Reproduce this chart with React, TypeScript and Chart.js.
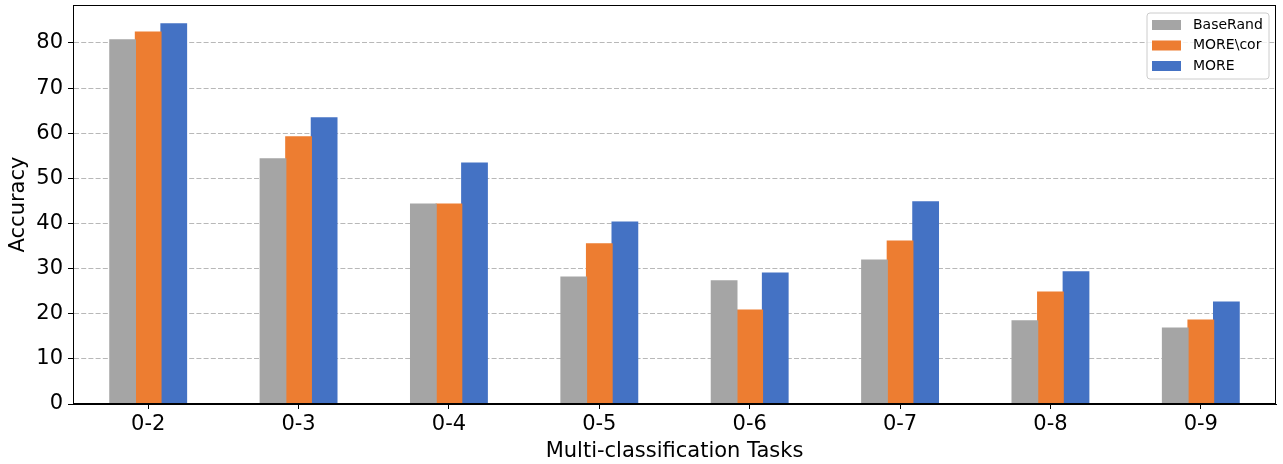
import React, { useEffect, useRef } from "react";
import { Chart, registerables } from "chart.js";

Chart.register(...registerables);

const categories = ["0-2", "0-3", "0-4", "0-5", "0-6", "0-7", "0-8", "0-9"];
const baseRand = [80.7, 54.3, 44.3, 28.1, 27.3, 31.9, 18.4, 16.8];
const moreCor = [82.4, 59.2, 44.3, 35.5, 20.8, 36.1, 24.8, 18.6];
const more = [84.2, 63.4, 53.4, 40.3, 29.0, 44.8, 29.3, 22.6];
const seriesNames = ["BaseRand", "MORE\\cor", "MORE"];
const seriesColors = ["#a5a5a5", "#ed7d31", "#4472c4"];
const yTicks = [0, 10, 20, 30, 40, 50, 60, 70, 80];

const FONT = "'DejaVu Sans', sans-serif";

const framePlugin = {
  id: "frame",
  afterDatasetsDraw(chart: any) {
    const { ctx, chartArea } = chart;
    ctx.save();
    ctx.strokeStyle = "#000";
    ctx.lineWidth = 1;
    ctx.strokeRect(
      Math.round(chartArea.left) + 0.5,
      Math.round(chartArea.top) + 0.5,
      Math.round(chartArea.right - chartArea.left) - 1,
      Math.round(chartArea.bottom - chartArea.top) - 1
    );
    ctx.restore();
  },
};

const legendPlugin = {
  id: "insideLegend",
  afterDraw(chart: any) {
    const { ctx, chartArea } = chart;
    const w = 122;
    const h = 66;
    const x = chartArea.right - 7 - w;
    const y = chartArea.top + 8;
    ctx.save();
    ctx.beginPath();
    const r = 3;
    ctx.moveTo(x + r, y);
    ctx.lineTo(x + w - r, y);
    ctx.quadraticCurveTo(x + w, y, x + w, y + r);
    ctx.lineTo(x + w, y + h - r);
    ctx.quadraticCurveTo(x + w, y + h, x + w - r, y + h);
    ctx.lineTo(x + r, y + h);
    ctx.quadraticCurveTo(x, y + h, x, y + h - r);
    ctx.lineTo(x, y + r);
    ctx.quadraticCurveTo(x, y, x + r, y);
    ctx.closePath();
    ctx.fillStyle = "rgba(255,255,255,0.8)";
    ctx.fill();
    ctx.strokeStyle = "#cccccc";
    ctx.lineWidth = 1;
    ctx.stroke();
    ctx.font = `14px ${FONT}`;
    ctx.textBaseline = "middle";
    ctx.textAlign = "left";
    chart.data.datasets.forEach((ds: any, i: number) => {
      const cy = y + 12 + i * 20.5;
      ctx.fillStyle = ds.backgroundColor;
      ctx.fillRect(x + 5, cy - 5, 29, 10);
      ctx.fillStyle = "#000";
      ctx.fillText(ds.label, x + 46, cy);
    });
    ctx.restore();
  },
};

export default function App() {
  const ref = useRef<HTMLCanvasElement>(null);
  useEffect(() => {
    if (!ref.current) return;
    const chart = new Chart(ref.current, {
      type: "bar",
      data: {
        labels: categories,
        datasets: [baseRand, moreCor, more].map((d, i) => ({
          label: seriesNames[i],
          data: d,
          backgroundColor: seriesColors[i],
          borderWidth: 0,
          inflateAmount: 0.6,
          categoryPercentage: 0.51,
          barPercentage: 1,
        })),
      },
      options: {
        responsive: false,
        animation: false,
        devicePixelRatio: 1,
        layout: { padding: { top: 5, right: 7, left: 0, bottom: 0 } },
        plugins: {
          legend: { display: false },
          tooltip: { enabled: false },
        },
        scales: {
          x: {
            grid: {
              display: true,
              offset: false,
              drawOnChartArea: false,
              drawTicks: true,
              tickLength: 5,
              tickColor: "#000",
            },
            border: { display: true, color: "#000", width: 1 },
            ticks: {
              color: "#000",
              font: { family: FONT, size: 21 },
              padding: 3,
            },
            title: {
              display: true,
              text: "Multi-classification Tasks",
              color: "#000",
              font: { family: FONT, size: 21 },
              padding: { top: 0, bottom: 0 },
            },
            afterFit(scale: any) {
              scale.height = 60;
              scale.paddingLeft = 0;
              scale.paddingRight = 0;
            },
          },
          y: {
            min: 0,
            max: 88.4,
            ticks: {
              stepSize: 10,
              color: "#000",
              font: { family: FONT, size: 21 },
              padding: 5,
            },
            afterBuildTicks(scale: any) {
              scale.ticks = yTicks.map((v) => ({ value: v }));
            },
            grid: {
              color: "rgba(176,176,176,0.9)",
              lineWidth: 1,
              tickLength: 5,
              tickColor: "#000",
              tickBorderDash: [],
            },
            border: { display: true, color: "#000", width: 1, dash: [5, 2.2] },
            title: {
              display: true,
              text: "Accuracy",
              color: "#000",
              font: { family: FONT, size: 21 },
              padding: { top: 6, bottom: 0 },
            },
            afterFit(scale: any) {
              scale.width = 73;
              scale.paddingTop = 0;
              scale.paddingBottom = 0;
            },
          },
        },
      },
      plugins: [framePlugin, legendPlugin],
    } as any);
    return () => chart.destroy();
  }, []);
  return (
    <div style={{ position: "fixed", left: 0, top: 0, width: 1283, height: 464, background: "#fff" }}>
      <canvas ref={ref} width={1283} height={464} style={{ display: "block" }} />
    </div>
  );
}
